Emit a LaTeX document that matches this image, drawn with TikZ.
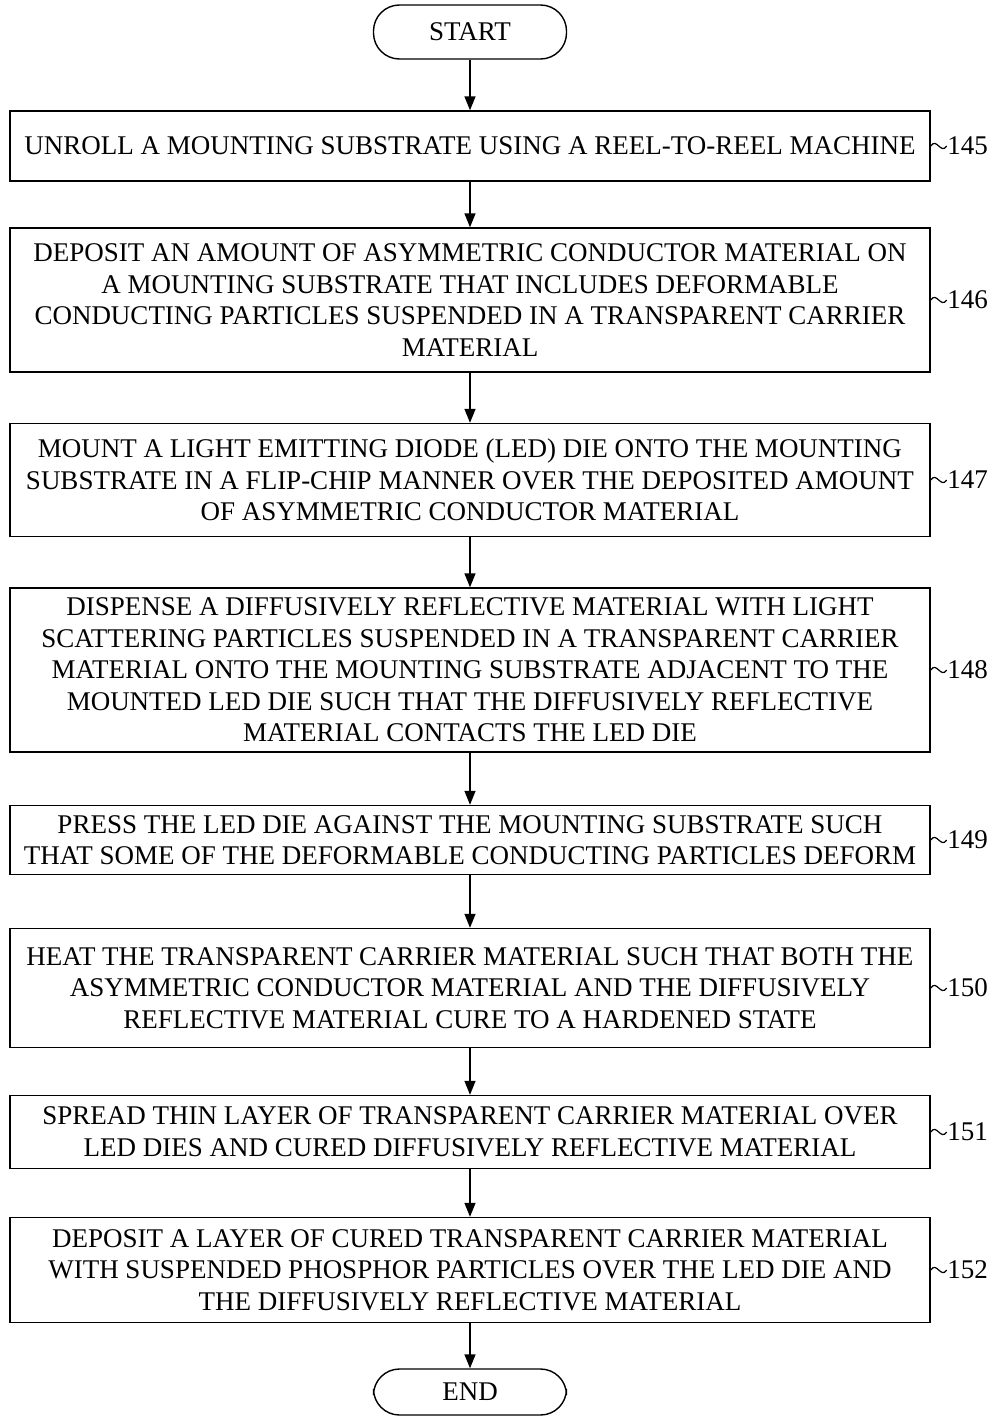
\documentclass[tikz,border=0pt]{standalone}
\usepackage{fontspec}
\setmainfont{Liberation Serif}
\usetikzlibrary{arrows.meta}

\begin{document}
\begin{tikzpicture}[x=1pt, y=-1pt, line width=1.4pt,
	>={Triangle[length=14pt, width=11pt]},
	stepbox/.style={draw, rectangle, minimum width=920pt, inner sep=0pt, align=center, font=\fontsize{27}{31.5}\selectfont},
	termbox/.style={draw, rectangle, rounded corners=26pt, minimum width=193pt, minimum height=54pt, font=\fontsize{27}{30}\selectfont},
	reflabel/.style={anchor=west, inner sep=0pt, font=\fontsize{27}{30}\selectfont}]

\useasboundingbox (0, 0) rectangle (996, 1416);

\node[termbox] (start) at (470, 32) 
{START};
\node[stepbox, minimum height=70pt] (s145) at (470, 146) 
{UNROLL A MOUNTING SUBSTRATE USING A REEL-TO-REEL MACHINE};
\node[stepbox, minimum height=144pt] (s146) at (470, 300) 
{DEPOSIT AN AMOUNT OF ASYMMETRIC CONDUCTOR MATERIAL ON\\
A MOUNTING SUBSTRATE THAT INCLUDES DEFORMABLE\\
CONDUCTING PARTICLES SUSPENDED IN A TRANSPARENT CARRIER\\
MATERIAL};
\node[stepbox, minimum height=113pt] (s147) at (470, 480) 
{MOUNT A LIGHT EMITTING DIODE (LED) DIE ONTO THE MOUNTING\\
SUBSTRATE IN A FLIP-CHIP MANNER OVER THE DEPOSITED AMOUNT\\
OF ASYMMETRIC CONDUCTOR MATERIAL};
\node[stepbox, minimum height=164pt] (s148) at (470, 670) 
{DISPENSE A DIFFUSIVELY REFLECTIVE MATERIAL WITH LIGHT\\
SCATTERING PARTICLES SUSPENDED IN A TRANSPARENT CARRIER\\
MATERIAL ONTO THE MOUNTING SUBSTRATE ADJACENT TO THE\\
MOUNTED LED DIE SUCH THAT THE DIFFUSIVELY REFLECTIVE\\
MATERIAL CONTACTS THE LED DIE};
\node[stepbox, minimum height=69pt] (s149) at (470, 840) 
{PRESS THE LED DIE AGAINST THE MOUNTING SUBSTRATE SUCH\\
THAT SOME OF THE DEFORMABLE CONDUCTING PARTICLES DEFORM};
\node[stepbox, minimum height=119pt] (s150) at (470, 988) 
{HEAT THE TRANSPARENT CARRIER MATERIAL SUCH THAT BOTH THE\\
ASYMMETRIC CONDUCTOR MATERIAL AND THE DIFFUSIVELY\\
REFLECTIVE MATERIAL CURE TO A HARDENED STATE};
\node[stepbox, minimum height=73pt] (s151) at (470, 1132) 
{SPREAD THIN LAYER OF TRANSPARENT CARRIER MATERIAL OVER\\
LED DIES AND CURED DIFFUSIVELY REFLECTIVE MATERIAL};
\node[stepbox, minimum height=105pt] (s152) at (470, 1270) 
{DEPOSIT A LAYER OF CURED TRANSPARENT CARRIER MATERIAL\\
WITH SUSPENDED PHOSPHOR PARTICLES OVER THE LED DIE AND\\
THE DIFFUSIVELY REFLECTIVE MATERIAL};
\node[termbox, minimum height=46pt] (end) at (470, 1392) 
{END};

\foreach \a/\b in {start/s145, s145/s146, s146/s147, s147/s148, s148/s149, s149/s150, s150/s151, s151/s152, s152/end}
\draw[->] (\a) -- (\b);

\foreach \n in {145,...,152} {
\node[reflabel] (l\n) at ([xshift=16pt]s\n.east) 
{\n};
\draw[line width=1.2pt] (s\n.east) .. controls +(6,-9) and +(-6,9) .. (l\n.west);
}

\end{tikzpicture}
\end{document}
